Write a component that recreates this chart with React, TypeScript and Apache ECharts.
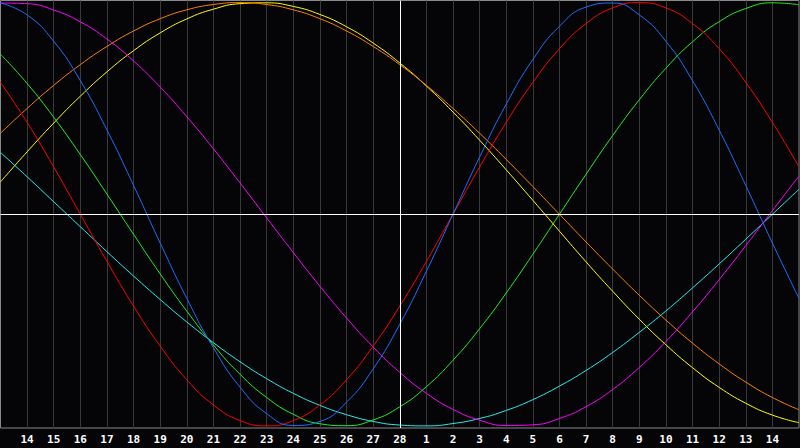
import React, { useEffect, useRef } from "react";
import * as echarts from "echarts";

const days = [
  "13", "14", "15", "16", "17", "18", "19", "20", "21", "22", "23", "24", "25", "26", "27", "28",
  "1", "2", "3", "4", "5", "6", "7", "8", "9", "10", "11", "12", "13", "14", "15",
];

const physical = [99.8, 94.2, 81.7, 63.1, 39.8, 13.6, -13.6, -39.8, -63.1, -81.7, -94.2, -99.8, -97.9, -88.8, -73.1, -52.0, -27.0, 0, 27.0, 52.0, 73.1, 88.8, 97.9, 99.8, 94.2, 81.7, 63.1, 39.8, 13.6, -13.6, -39.8];
const emotional = [62.3, 43.4, 22.3, 0, -22.3, -43.4, -62.3, -78.2, -90.1, -97.5, -100, -97.5, -90.1, -78.2, -62.3, -43.4, -22.3, 0, 22.3, 43.4, 62.3, 78.2, 90.1, 97.5, 100, 97.5, 90.1, 78.2, 62.3, 43.4, 22.3];
const intellectual = [75.6, 61.8, 45.8, 28.2, 9.5, -9.5, -28.2, -45.8, -61.8, -75.6, -86.6, -94.5, -99.0, -99.9, -97.2, -91.0, -81.5, -69.0, -54.1, -37.2, -18.9, 0, 18.9, 37.2, 54.1, 69.0, 81.5, 91.0, 97.2, 99.9, 99.0];
const intuitive = [99.8, 99.5, 96.5, 90.9, 82.8, 72.4, 60.1, 46.1, 30.9, 14.8, -1.7, -18.1, -34.0, -49.0, -62.7, -74.7, -84.6, -92.2, -97.3, -99.8, -99.5, -96.5, -90.9, -82.8, -72.4, -60.1, -46.1, -30.9, -14.8, 1.7, 18.1];
const spiritual = [29.2, 17.7, 5.9, -5.9, -17.7, -29.2, -40.3, -50.9, -60.7, -69.7, -77.7, -84.6, -90.3, -94.7, -97.9, -99.6, -100.0, -98.9, -96.5, -92.7, -87.6, -81.2, -73.8, -65.3, -55.8, -45.7, -34.8, -23.5, -11.8, 0, 11.8];
const awareness = [38.3, 50.0, 60.9, 70.7, 79.3, 86.6, 92.4, 96.6, 99.1, 100, 99.1, 96.6, 92.4, 86.6, 79.3, 70.7, 60.9, 50.0, 38.3, 25.9, 13.1, 0, -13.1, -25.9, -38.3, -50.0, -60.9, -70.7, -79.3, -86.6, -92.4];
const aesthetic = [15.3, 29.5, 43.1, 55.8, 67.3, 77.3, 85.7, 92.3, 96.9, 99.5, 99.9, 98.2, 94.4, 88.6, 80.9, 71.5, 60.6, 48.3, 35.0, 21.0, 6.6, -8.0, -22.5, -36.4, -49.6, -61.7, -72.5, -81.8, -89.3, -94.9, -98.5];

const seriesDefs = [
  { name: "aesthetic", data: aesthetic, color: "#ffff00" },
  { name: "awareness", data: awareness, color: "#ff8000" },
  { name: "spiritual", data: spiritual, color: "#22eeee" },
  { name: "intuitive", data: intuitive, color: "#ff00ff" },
  { name: "intellectual", data: intellectual, color: "#22ee22" },
  { name: "emotional", data: emotional, color: "#ff0000" },
  { name: "physical", data: physical, color: "#1e6eff" },
];

export default function App() {
  const ref = useRef<HTMLDivElement>(null);
  useEffect(() => {
    if (!ref.current) return;
    const chart = echarts.init(ref.current, undefined, { renderer: "svg" });
    chart.setOption({
      animation: false,
      backgroundColor: "#050508",
      grid: {
        left: 0.5,
        top: 0.5,
        right: 1,
        bottom: 20,
        show: true,
        borderColor: "#8a8a8a",
        borderWidth: 1,
        backgroundColor: "transparent",
      },
      xAxis: {
        type: "category",
        data: days,
        boundaryGap: false,
        axisLine: { show: false },
        axisTick: { show: false },
        axisLabel: {
          interval: (i: number) => i > 0 && i < days.length - 1,
          color: "#ffffff",
          fontFamily: "DejaVu Sans Mono",
          fontWeight: "bold",
          fontSize: 11,
          margin: 6,
        },
        splitLine: {
          show: true,
          interval: (i: number) => i > 0 && i < days.length - 1,
          lineStyle: { color: "#3a3a3a", width: 1 },
        },
      },
      yAxis: {
        type: "value",
        min: -101,
        max: 101,
        axisLine: { show: false },
        axisTick: { show: false },
        axisLabel: { show: false },
        splitLine: { show: false },
      },
      series: [
        {
          type: "line",
          data: [],
          silent: true,
          markLine: {
            silent: true,
            symbol: "none",
            label: { show: false },
            lineStyle: { color: "#ffffff", width: 1, type: "solid" },
            data: [{ xAxis: 15 }, { yAxis: 0 }],
          },
        },
        ...seriesDefs.map((s) => ({
          name: s.name,
          type: "line",
          data: s.data,
          smooth: true,
          symbol: "none",
          lineStyle: { color: s.color, width: 1 },
          itemStyle: { color: s.color },
        })),
      ],
    });
    return () => chart.dispose();
  }, []);
  return (
    <div
      ref={ref}
      style={{ position: "fixed", left: 0, top: 0, width: 800, height: 448, background: "#050508" }}
    />
  );
}
